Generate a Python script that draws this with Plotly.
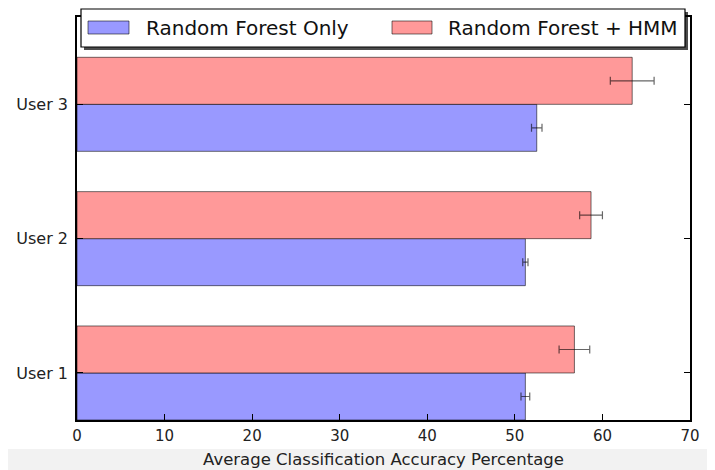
import numpy as np
import plotly.graph_objects as go

# ---- data ----
users = ["User 1", "User 2", "User 3"]
series_names = ["Random Forest Only", "Random Forest + HMM"]
rf_only = [51.2, 51.2, 52.5]
rf_only_err = [0.5, 0.3, 0.6]
rf_hmm = [56.8, 58.7, 63.4]
rf_hmm_err = [1.75, 1.3, 2.5]
x_ticks = [0, 10, 20, 30, 40, 50, 60, 70]

# ---- geometry: target screen box 77..690 x 17..420; page body has an 8px margin ----
OFF = 8
SW, SH = 715, 470
W, H = SW - OFF, SH - OFF
SL, SR, ST, SB = 77, 690, 17, 420
L, T = SL - OFF, ST - OFF
R, B = W - (SR - OFF), H - (SB - OFF)
pw, ph = SR - SL, SB - ST

def px(x):
    return (x - SL) / pw

def py(y):
    return (SB - y) / ph

bar_h = 0.35
idx = np.arange(len(users))

blue_fill = "rgb(153,153,255)"
red_fill = "rgb(255,153,153)"
edge = "rgba(0,0,0,0.55)"
err_col = "rgba(0,0,0,0.6)"
FONT = "DejaVu Sans"

fig = go.Figure()
fig.add_trace(go.Bar(
    x=rf_only, y=idx, orientation="h", width=bar_h, offset=0,
    name=series_names[0], marker=dict(color=blue_fill, line=dict(color=edge, width=1)),
    error_x=dict(type="data", array=rf_only_err, color=err_col, thickness=1.2, width=4),
    showlegend=False,
))
fig.add_trace(go.Bar(
    x=rf_hmm, y=idx + bar_h, orientation="h", width=bar_h, offset=0,
    name=series_names[1], marker=dict(color=red_fill, line=dict(color=edge, width=1)),
    error_x=dict(type="data", array=rf_hmm_err, color=err_col, thickness=1.2, width=4),
    showlegend=False,
))

shapes = []
# bottom grey band of the original image
shapes.append(dict(type="rect", xref="paper", yref="paper", x0=px(0), x1=px(SW + 10), y0=py(449), y1=py(SH + 10),
                   fillcolor="#f2f2f2", line=dict(width=0), layer="below"))
# legend shadow
shapes.append(dict(type="rect", xref="paper", yref="paper", x0=px(84), x1=px(688), y0=py(12), y1=py(50),
                   fillcolor="rgba(0,0,0,0.7)", line=dict(width=0), layer="above"))
# legend box
shapes.append(dict(type="rect", xref="paper", yref="paper", x0=px(81), x1=px(685), y0=py(9), y1=py(47),
                   fillcolor="white", line=dict(color="black", width=1.2), layer="above"))
# swatches
shapes.append(dict(type="rect", xref="paper", yref="paper", x0=px(88), x1=px(129), y0=py(21), y1=py(34),
                   fillcolor=blue_fill, line=dict(color=edge, width=1), layer="above"))
shapes.append(dict(type="rect", xref="paper", yref="paper", x0=px(392), x1=px(432), y0=py(21), y1=py(34),
                   fillcolor=red_fill, line=dict(color=edge, width=1), layer="above"))

annotations = [
    dict(text=series_names[0], xref="paper", yref="paper", x=px(144), y=py(28.5), xanchor="left", yanchor="middle",
         showarrow=False, font=dict(family=FONT, size=20, color="#111")),
    dict(text=series_names[1], xref="paper", yref="paper", x=px(446), y=py(28.5), xanchor="left", yanchor="middle",
         showarrow=False, font=dict(family=FONT, size=20, color="#111")),
]

fig.update_layout(
    width=W, height=H,
    margin=dict(l=L, r=R, t=T, b=B, pad=0, autoexpand=False),
    paper_bgcolor="white", plot_bgcolor="white",
    barmode="overlay",
    font=dict(family=FONT, color="#222"),
    shapes=shapes, annotations=annotations,
    xaxis=dict(
        range=[0, 70], tickvals=x_ticks, ticktext=[str(v) for v in x_ticks],
        showgrid=False, zeroline=False, automargin=False,
        showline=True, linecolor="black", linewidth=1.5, mirror="ticks",
        ticks="inside", ticklen=6, tickcolor="black", tickwidth=1,
        tickfont=dict(size=15, family=FONT, color="#222"),
        ticklabelstandoff=1,
        title=dict(text="Average Classification Accuracy Percentage",
                   font=dict(size=16.5, family=FONT, color="#222"), standoff=10),
    ),
    yaxis=dict(
        range=[0, 3], tickvals=list(idx + bar_h), ticktext=users,
        showgrid=False, zeroline=False, automargin=False,
        showline=True, linecolor="black", linewidth=1.5, mirror="ticks",
        ticks="inside", ticklen=6, tickcolor="black", tickwidth=1,
        tickfont=dict(size=16, family=FONT, color="#222"),
        ticklabelstandoff=4,
    ),
)

fig.write_html("out.html")
